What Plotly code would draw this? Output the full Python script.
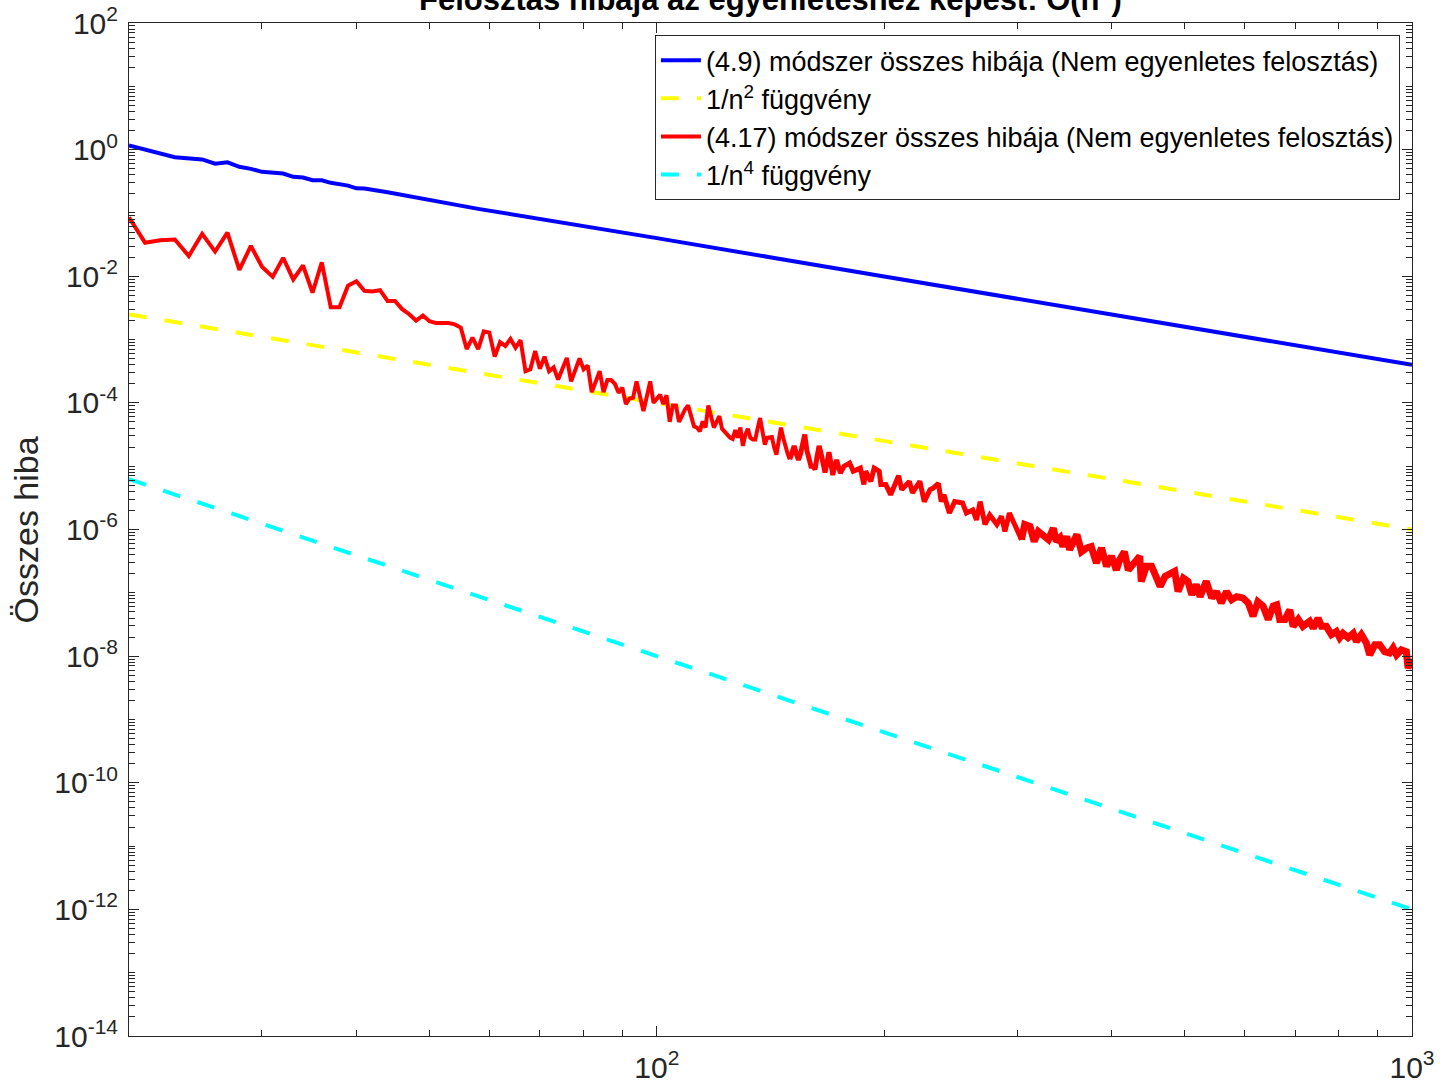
import plotly.graph_objects as go

# ---------------- data ----------------
# blue: (4.9) method total error
blue_n = [20, 23, 25, 26, 27, 28, 29, 30, 32, 33, 34, 35, 36, 37, 39, 40, 41, 43, 44, 58, 100, 200, 500, 1000]
blue_err = [1.16, 0.76, 0.70, 0.60, 0.63, 0.535, 0.497, 0.446, 0.419, 0.372, 0.362, 0.328, 0.328,
            0.299, 0.270, 0.245, 0.243, 0.218, 0.212, 0.116, 0.040, 0.0099, 0.0016, 0.00040]

# red: (4.17) method total error, stored as log10 of the error
red_n = [20, 21, 22, 23, 24, 25, 26, 27, 28, 29, 30, 31, 32, 33, 34, 35, 36, 37, 38, 39,
         40, 41, 42, 43, 44, 45, 46, 47, 48, 49, 50, 51, 52, 53, 54, 55, 56, 57, 58, 59,
         60, 61, 62, 63, 64, 65, 66, 67, 68, 69, 70, 71, 72, 73, 74, 75, 76, 77, 78, 79,
         80, 81, 82, 83, 84, 85, 86, 87, 88, 89, 90, 91, 92, 93, 94, 95, 96, 97, 98, 99,
         100, 101, 102, 103, 104, 105, 106, 107, 108, 109, 110, 111, 112, 113, 114, 115, 116, 117, 118, 119,
         120, 121, 122, 123, 124, 125, 126, 127, 128, 129, 130, 131, 132, 133, 134, 135, 136, 137, 138, 139,
         140, 141, 142, 143, 144, 145, 146, 147, 148, 149, 150, 151, 152, 153, 154, 155, 156, 157, 158, 159,
         160, 161, 162, 163, 164, 165, 166, 167, 168, 169, 170, 171, 172, 173,
         175, 177, 180, 182, 186, 188, 189, 192, 194, 197, 198, 201, 204, 209, 211, 216, 218, 223, 226, 230,
         232, 236, 238, 240, 244, 248, 254, 257, 262, 265, 268, 272, 276, 282, 286, 289, 293, 298, 304, 307,
         312, 316, 320, 325, 330, 335, 338, 342, 345, 349, 352, 360, 365, 371, 376, 382, 388, 394, 400, 406,
         410, 416, 421, 432, 436, 438, 445, 452, 459, 464, 471, 478, 485, 490, 498, 505, 511, 518, 524, 534,
         543, 551, 559, 568, 577, 586, 597, 607, 616, 625, 635, 645, 655, 662, 668, 679, 689, 696, 707, 717,
         732, 740, 751, 759, 770, 782, 794, 802, 810, 823, 836, 844, 857, 870, 879, 893, 906, 920, 934, 944,
         954, 968, 983, 988, 998, 1000]
red_log10_err = [-1.07, -1.47, -1.43, -1.42, -1.68, -1.33, -1.61, -1.31, -1.90, -1.52, -1.85, -2.01, -1.71, -2.05, -1.83, -2.26, -1.78, -2.49, -2.49, -2.15,
                 -2.08, -2.23, -2.24, -2.22, -2.39, -2.39, -2.52, -2.60, -2.70, -2.62, -2.71, -2.74, -2.74, -2.74, -2.76, -2.81, -3.15, -2.97, -3.15, -2.87,
                 -2.89, -3.27, -3.04, -3.10, -2.99, -3.13, -3.01, -3.50, -3.47, -3.18, -3.46, -3.27, -3.50, -3.44, -3.63, -3.45, -3.29, -3.66, -3.48, -3.30,
                 -3.47, -3.41, -3.83, -3.67, -3.50, -3.83, -3.64, -3.64, -3.70, -3.84, -3.76, -4.02, -3.93, -3.92, -3.66, -3.90, -4.13, -3.90, -3.66, -4.00,
                 -3.94, -3.87, -4.02, -3.88, -4.30, -4.04, -4.04, -4.30, -4.20, -4.10, -4.04, -4.20, -4.37, -4.39, -4.45, -4.29, -4.39, -4.04, -4.20, -4.39,
                 -4.30, -4.21, -4.41, -4.46, -4.52, -4.55, -4.57, -4.43, -4.55, -4.39, -4.68, -4.50, -4.41, -4.55, -4.58, -4.58, -4.40, -4.24, -4.45, -4.66,
                 -4.55, -4.55, -4.54, -4.70, -4.82, -4.60, -4.39, -4.55, -4.71, -4.80, -4.89, -4.80, -4.68, -4.80, -4.90, -4.80, -4.65, -4.50, -4.75, -4.90,
                 -5.00, -5.00, -5.05, -4.85, -4.68, -4.80, -4.95, -5.10, -4.95, -4.78, -4.95, -5.14, -5.00, -4.90,
                 -5.11, -5.00, -4.95, -5.08, -5.03, -5.29, -5.08, -5.24, -5.03, -5.08, -5.29, -5.29, -5.45, -5.15, -5.37, -5.24, -5.42, -5.24, -5.56, -5.37,
                 -5.35, -5.27, -5.56, -5.45, -5.74, -5.56, -5.58, -5.74, -5.69, -5.85, -5.56, -5.92, -5.77, -5.92, -5.79, -6.03, -5.74, -5.95, -6.16, -5.92,
                 -5.95, -6.19, -6.03, -6.11, -6.16, -5.98, -6.19, -6.13, -6.27, -6.11, -6.32, -6.08, -6.35, -6.29, -6.27, -6.53, -6.29, -6.58, -6.42, -6.64,
                 -6.48, -6.35, -6.64, -6.48, -6.42, -6.82, -6.58, -6.58, -6.74, -6.90, -6.74, -6.69, -6.66, -6.98, -6.77, -6.82, -7.03, -6.87, -7.06, -6.82,
                 -7.08, -6.98, -7.16, -6.98, -7.11, -7.06, -7.08, -7.16, -7.37, -7.14, -7.21, -7.42, -7.21, -7.19, -7.42, -7.42, -7.27, -7.53, -7.42, -7.53,
                 -7.45, -7.56, -7.40, -7.53, -7.53, -7.66, -7.61, -7.71, -7.64, -7.71, -7.64, -7.77, -7.66, -7.79, -7.98, -7.82, -7.82, -7.93, -7.95, -7.87,
                 -7.98, -7.90, -7.93, -8.19, -8.06, -8.10]

# reference functions 1/n^2 and 1/n^4 (straight lines in log-log, endpoints)
ref_n = [20, 1000]
inv_n2 = [2.5e-3, 1e-6]
inv_n4 = [6.25e-6, 1e-12]

# axis ticks
x_major = [100, 1000]
x_major_text = ["10<sup>2</sup>", "10<sup>3</sup>"]
y_major_exp = [2, 0, -2, -4, -6, -8, -10, -12, -14]

# ---------------- figure ----------------
FONT = "Liberation Sans, Arial, Helvetica, sans-serif"
AXC = "#262626"

red_err = [10 ** v for v in red_log10_err]

fig = go.Figure()
fig.add_trace(go.Scatter(x=blue_n, y=blue_err, mode="lines",
                         line=dict(color="#0000FF", width=4),
                         name="(4.9) módszer összes hibája (Nem egyenletes felosztás)"))
fig.add_trace(go.Scatter(x=ref_n, y=inv_n2, mode="lines",
                         line=dict(color="#FFFF00", width=4, dash="18px,18px"),
                         name="1/n<sup>2</sup> függvény"))

# the red curve; its dense high-n part is drawn a little thicker (same data, split by n)
i150 = red_n.index(150)
i304 = red_n.index(304)
fig.add_trace(go.Scatter(x=red_n[:i150 + 1], y=red_err[:i150 + 1], mode="lines",
                         line=dict(color="#FF0000", width=4), legendgroup="red",
                         name="(4.17) módszer összes hibája (Nem egyenletes felosztás)"))
fig.add_trace(go.Scatter(x=ref_n, y=inv_n4, mode="lines",
                         line=dict(color="#00FFFF", width=4, dash="18px,18px"),
                         name="1/n<sup>4</sup> függvény"))
fig.add_trace(go.Scatter(x=red_n[i150:i304 + 1], y=red_err[i150:i304 + 1], mode="lines",
                         line=dict(color="#FF0000", width=5), legendgroup="red", showlegend=False))
fig.add_trace(go.Scatter(x=red_n[i304:], y=red_err[i304:], mode="lines",
                         line=dict(color="#FF0000", width=7), legendgroup="red", showlegend=False))

y_major = [10.0 ** e for e in y_major_exp]
y_major_text = ["10<sup>%d</sup>" % e for e in y_major_exp]
y_minor = []
for m in range(-14, 2):
    for k in range(1, 10):
        if k == 1 and m % 2 == 0:
            continue
        y_minor.append(k * 10.0 ** m)
x_minor = [k * 10 for k in range(3, 10)] + [k * 100 for k in range(2, 10)]

fig.update_xaxes(type="log", range=[1.30103, 3.0], showgrid=False, zeroline=False, automargin=False,
                 showline=True, linecolor=AXC, linewidth=1, mirror="ticks",
                 ticks="inside", ticklen=10, tickcolor=AXC, tickwidth=1,
                 tickvals=x_major, ticktext=x_major_text,
                 tickfont=dict(family=FONT, size=30, color=AXC),
                 ticklabelstandoff=5,
                 minor=dict(tickvals=x_minor, ticks="inside", ticklen=6, tickcolor=AXC, tickwidth=1))
fig.update_yaxes(type="log", range=[-14, 2], showgrid=False, zeroline=False, automargin=False,
                 showline=True, linecolor=AXC, linewidth=1, mirror="ticks",
                 ticks="inside", ticklen=10, tickcolor=AXC, tickwidth=1,
                 tickvals=y_major, ticktext=y_major_text,
                 tickfont=dict(family=FONT, size=30, color=AXC),
                 ticklabelstandoff=4,
                 minor=dict(tickvals=y_minor, ticks="inside", ticklen=6, tickcolor=AXC, tickwidth=1))

fig.update_layout(
    width=1448, height=1085,
    margin=dict(l=129, r=36, t=23, b=49),
    paper_bgcolor="white", plot_bgcolor="white",
    font=dict(family=FONT, color="black"),
    showlegend=True,
    legend=dict(x=0.9906, y=0.988, xanchor="right", yanchor="top",
                bgcolor="white", bordercolor=AXC, borderwidth=1,
                font=dict(family=FONT, size=27, color="black"),
                itemwidth=40, tracegroupgap=0),
    annotations=[
        dict(text="<b>Felosztás hibája az egyenleteshez képest: O(n<sup>4</sup>)</b>",
             xref="paper", yref="paper", x=0.5, y=1.004, xanchor="center", yanchor="bottom",
             showarrow=False, font=dict(family=FONT, size=31, color="black")),
        dict(text="Összes hiba", textangle=-90,
             xref="paper", yref="paper", x=-0.0803, y=0.5, xanchor="center", yanchor="middle",
             showarrow=False, font=dict(family=FONT, size=34, color=AXC)),
    ],
)

fig.write_html("out.html", config={"displayModeBar": False},
               post_script="document.body.style.margin='0px';document.body.style.overflow='hidden';")
